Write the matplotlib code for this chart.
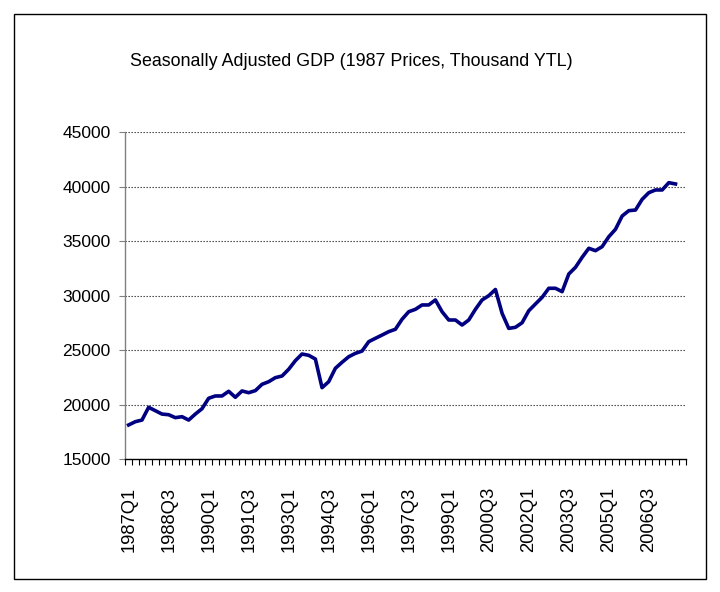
import matplotlib
matplotlib.use("Agg")
import matplotlib.pyplot as plt
from matplotlib.patches import Rectangle

# Quarterly categories 1987Q1 .. 2007Q4
years = list(range(1987, 2008))
categories = [f"{y}Q{q}" for y in years for q in (1, 2, 3, 4)]

# Seasonally adjusted GDP (1987 prices, thousand YTL), 1987Q1 .. 2007Q3
gdp = [
    18150, 18450, 18600, 19770, 19460, 19150, 19090, 18820, 18910, 18600,
    19150, 19640, 20600, 20810, 20810, 21240, 20690, 21270, 21110, 21300,
    21880, 22120, 22490, 22640, 23260, 24050, 24660, 24540, 24200, 21570,
    22120, 23350, 23900, 24410, 24720, 24930, 25790, 26100, 26400, 26710,
    26930, 27850, 28540, 28760, 29160, 29160, 29620, 28540, 27780, 27780,
    27320, 27780, 28760, 29620, 30010, 30580, 28390, 27010, 27110, 27530,
    28630, 29250, 29860, 30690, 30690, 30380, 32000, 32610, 33530, 34360,
    34140, 34510, 35420, 36100, 37320, 37810, 37870, 38850, 39460, 39710,
    39710, 40380, 40260,
]

title = "Seasonally Adjusted GDP (1987 Prices, Thousand YTL)"
yticks = [15000, 20000, 25000, 30000, 35000, 40000, 45000]
label_step = 6

plt.rcParams['font.family'] = ['Liberation Sans', 'DejaVu Sans']

W, H = 720, 592
fig = plt.figure(figsize=(W / 100, H / 100), dpi=100)
ax = fig.add_axes([125.3 / W, 1 - 459.3 / H, (685.5 - 125.3) / W, (459.3 - 132.3) / H])

# outer frame
fig.patches.append(Rectangle((14 / W, 1 - 579 / H), (706 - 14) / W, (579 - 14) / H,
                             transform=fig.transFigure, fill=False,
                             edgecolor='black', linewidth=1.0))

n = len(categories)
xs = list(range(len(gdp)))
ax.plot(xs, gdp, color='#000080', linewidth=2.6, solid_joinstyle='round', zorder=3)

ax.set_xlim(-0.5, n - 0.5)
ax.set_ylim(yticks[0], yticks[-1])
ax.set_yticks(yticks)
ax.set_yticklabels([str(v) for v in yticks], fontsize=12.5)

for v in yticks[1:]:
    ax.axhline(v, color='#333333', linewidth=0.8, linestyle=(0, (1.2, 1.5)), zorder=1)

major = list(range(0, n, label_step))
ax.set_xticks(major)
ax.set_xticklabels([categories[i] for i in major], rotation=90, fontsize=13.2)
ax.set_xticks([i - 0.5 for i in range(n + 1)], minor=True)
ax.tick_params(axis='x', which='major', length=0, pad=20)
ax.tick_params(axis='x', which='minor', length=4.5, direction='out', width=0.8, color='black')
ax.tick_params(axis='y', length=4.5, direction='out', width=0.8, color='#808080', pad=6)

for s in ('top', 'right'):
    ax.spines[s].set_visible(False)
ax.spines['left'].set_color('#808080')
ax.spines['left'].set_linewidth(1.0)
ax.spines['bottom'].set_color('black')
ax.spines['bottom'].set_linewidth(1.0)

fig.text(351 / W, 1 - 62 / H, title, ha='center', va='center', fontsize=12.9)

fig.savefig("out.png", dpi=100)
